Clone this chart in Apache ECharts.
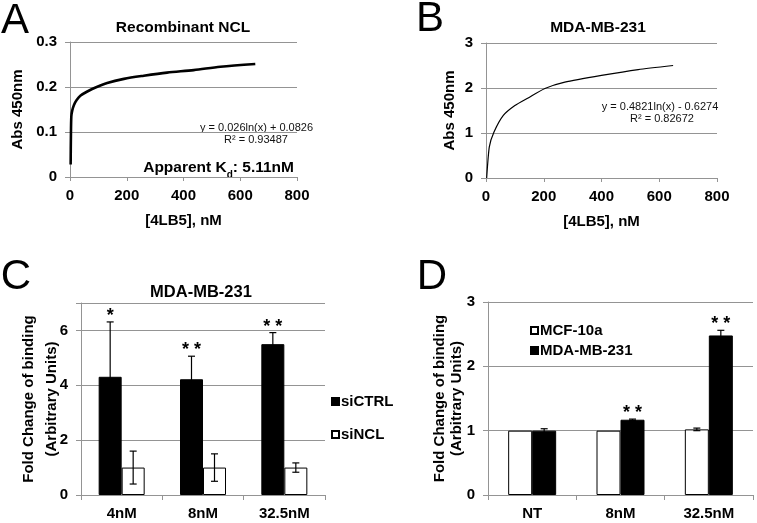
<!DOCTYPE html>
<html><head><meta charset="utf-8">
<script src="https://cdn.jsdelivr.net/npm/echarts@6/dist/echarts.min.js"></script>
<style>html,body{margin:0;padding:0;background:#fff}#c{width:757px;height:523px}</style>
</head><body><div id="c"></div>
<script>
// ---- data ----
const curveAx = [2.3, 3.2, 4.7, 8, 14, 23.5, 37.5, 61, 90, 131, 190, 260, 342, 436, 530, 653];
const curveAy = [0.028, 0.09, 0.135, 0.148, 0.16, 0.171, 0.181, 0.19, 0.199, 0.209, 0.218, 0.225, 0.232, 0.2375, 0.245, 0.251];
const curveBx = [2.3, 11.5, 27.7, 60, 100, 146, 204, 273, 400, 527, 648];
const curveBy = [0.0, 0.69, 1.02, 1.39, 1.61, 1.78, 1.99, 2.13, 2.28, 2.41, 2.50];
const catsC = ['4nM', '8nM', '32.5nM'];
const siCTRL = [4.31, 4.22, 5.50];
const siCTRLerr = [2.0, 0.84, 0.42];
const siNCL = [1.0, 1.0, 1.0];
const siNCLerr = [0.6, 0.5, 0.17];
const sigC = ['*', '* *', '* *'];
const catsD = ['NT', '8nM', '32.5nM'];
const mcf = [1.0, 1.0, 1.02];
const mcfErr = [0, 0, 0.02];
const mda = [1.0, 1.17, 2.48];
const mdaErr = [0.03, 0.01, 0.08];
const sigD = ['', '* *', '* *'];

// ---- styles ----
const F = '"Liberation Sans", Arial, sans-serif';
const GRAY = '#949494';
const lab = {color: '#000', fontWeight: 'bold', fontSize: 15, fontFamily: F};

function valAxisX(gi, name) {
  return {type: 'value', gridIndex: gi, min: 0, max: 800, interval: 200,
    axisLine: {show: true, lineStyle: {color: GRAY}}, axisTick: {show: true, length: 4, lineStyle: {color: GRAY}},
    axisLabel: Object.assign({margin: 11}, lab), splitLine: {show: false},
    name: name, nameLocation: 'middle', nameGap: 36, nameMoveOverlap: false, nameTextStyle: Object.assign({}, lab)};
}
function valAxisY(gi, max, interval, name, gap, lh, fmt) {
  return {type: 'value', gridIndex: gi, min: 0, max: max, interval: interval,
    axisLine: {show: true, lineStyle: {color: GRAY}}, axisTick: {show: true, length: 5, lineStyle: {color: GRAY}},
    axisLabel: Object.assign({margin: 13, formatter: fmt}, lab),
    splitLine: {show: true, lineStyle: {color: GRAY, width: 1}},
    name: name, nameLocation: 'middle', nameRotate: 90, nameGap: gap, nameMoveOverlap: false,
    nameTextStyle: Object.assign({lineHeight: lh}, lab)};
}
function catAxis(gi, cats) {
  return {type: 'category', gridIndex: gi, data: cats,
    axisLine: {show: true, lineStyle: {color: GRAY}}, axisTick: {show: true, length: 5, lineStyle: {color: GRAY}},
    axisLabel: Object.assign({margin: 11}, lab)};
}
function errSeries(xi, vals, errs, sig, offset) {
  return {type: 'custom', xAxisIndex: xi, yAxisIndex: xi, z: 10, silent: true,
    encode: {x: 0, y: 1},
    data: vals.map((v, i) => [i, v, errs[i]]),
    renderItem: function (params, api) {
      const i = api.value(0), v = api.value(1), e = api.value(2);
      const top = api.coord([i, v + e]);
      const bot = api.coord([i, v - e]);
      const x = top[0] + offset;
      const ch = [];
      const st = {stroke: '#000', lineWidth: 1.2};
      if (e > 0) {
        ch.push({type: 'line', shape: {x1: x, y1: top[1], x2: x, y2: bot[1]}, style: st});
        ch.push({type: 'line', shape: {x1: x - 3.5, y1: top[1], x2: x + 3.5, y2: top[1]}, style: st});
        ch.push({type: 'line', shape: {x1: x - 3.5, y1: bot[1], x2: x + 3.5, y2: bot[1]}, style: st});
      }
      const s = sig[params.dataIndex];
      if (s) ch.push({type: 'text', x: x, y: top[1] - 6,
        style: {text: s, font: 'bold 18px ' + F, fill: '#000', align: 'center', verticalAlign: 'middle'}});
      return {type: 'group', children: ch};
    }};
}
function txt(x, y, text, font, align, color) {
  return {type: 'text', x: x, y: y, silent: true,
    style: {text: text, font: font, fill: color || '#000', align: align || 'center', verticalAlign: 'middle'}};
}

const chart = echarts.init(document.getElementById('c'), null, {renderer: 'canvas'});
chart.setOption({
  backgroundColor: '#fff',
  animation: false,
  grid: [
    {left: 70, top: 42, width: 227, height: 135},
    {left: 486, top: 43, width: 231, height: 135},
    {left: 81, top: 303, width: 244, height: 192},
    {left: 488, top: 302, width: 265, height: 193}
  ],
  xAxis: [valAxisX(0, '[4LB5], nM'), valAxisX(1, '[4LB5], nM'), catAxis(2, catsC), catAxis(3, catsD)],
  yAxis: [
    valAxisY(0, 0.3, 0.1, 'Abs 450nm', 43, 18),
    valAxisY(1, 3, 1, 'Abs 450nm', 27, 18),
    valAxisY(2, 7, 2, 'Fold Change of binding\n(Arbitrary Units)', 18, 22.5, v => (v % 2 === 0 ? String(v) : '')),
    valAxisY(3, 3, 1, 'Fold Change of binding\n(Arbitrary Units)', 22, 17.5)
  ],
  legend: [
    {orient: 'vertical', left: 326, top: 389, itemGap: 18, itemWidth: 7, itemHeight: 7, icon: 'rect',
      data: ['siCTRL', 'siNCL'], textStyle: Object.assign({padding: [0, 0, 0, -3]}, lab)},
    {orient: 'vertical', left: 525, top: 318, itemGap: 5, itemWidth: 7, itemHeight: 7, icon: 'rect',
      data: ['MCF-10a', 'MDA-MB-231'], textStyle: Object.assign({padding: [0, 0, 0, -3]}, lab)}
  ],
  series: [
    {type: 'line', xAxisIndex: 0, yAxisIndex: 0, data: curveAx.map((x, i) => [x, curveAy[i]]),
      showSymbol: false, smooth: 0.3, lineStyle: {color: '#000', width: 2.6}},
    {type: 'line', xAxisIndex: 1, yAxisIndex: 1, data: curveBx.map((x, i) => [x, curveBy[i]]),
      showSymbol: false, smooth: 0.2, lineStyle: {color: '#000', width: 1.2}},
    {name: 'siCTRL', type: 'bar', xAxisIndex: 2, yAxisIndex: 2, data: siCTRL, barWidth: 23, barGap: '0%',
      itemStyle: {color: '#000', borderColor: '#000', borderWidth: 1}},
    {name: 'siNCL', type: 'bar', xAxisIndex: 2, yAxisIndex: 2, data: siNCL, barWidth: 23, barGap: '0%',
      itemStyle: {color: '#fff', borderColor: '#000', borderWidth: 1}},
    errSeries(2, siCTRL, siCTRLerr, sigC, -11.5),
    errSeries(2, siNCL, siNCLerr, ['', '', ''], 11.5),
    {name: 'MCF-10a', type: 'bar', xAxisIndex: 3, yAxisIndex: 3, data: mcf, barWidth: 24, barGap: '0%',
      itemStyle: {color: '#fff', borderColor: '#000', borderWidth: 1}},
    {name: 'MDA-MB-231', type: 'bar', xAxisIndex: 3, yAxisIndex: 3, data: mda, barWidth: 24, barGap: '0%',
      itemStyle: {color: '#000', borderColor: '#000', borderWidth: 1}},
    errSeries(3, mcf, mcfErr, ['', '', ''], -12),
    errSeries(3, mda, mdaErr, sigD, 12)
  ],
  graphic: [
    txt(15, 21, 'A', '42px ' + F),
    txt(430, 19, 'B', '42px ' + F),
    txt(16, 277, 'C', '42px ' + F),
    txt(432, 277, 'D', '42px ' + F),
    txt(183, 28, 'Recombinant NCL', 'bold 15.5px ' + F),
    txt(598, 28, 'MDA-MB-231', 'bold 15.5px ' + F),
    txt(201, 292, 'MDA-MB-231', 'bold 16.5px ' + F),
    txt(256.5, 128, 'y = 0.026ln(x) + 0.0826', '11px ' + F, 'center', '#111'),
    txt(256, 140, 'R² = 0.93487', '11px ' + F, 'center', '#111'),
    txt(660, 107, 'y = 0.4821ln(x) - 0.6274', '11px ' + F, 'center', '#111'),
    txt(662, 119, 'R² = 0.82672', '11px ' + F, 'center', '#111'),
    {type: 'text', x: 294, y: 168, silent: true,
      style: {text: '{a|Apparent K}{s|d}{a|: 5.11nM}', align: 'right', verticalAlign: 'middle',
        rich: {a: {font: 'bold 15.5px ' + F, fill: '#000', verticalAlign: 'bottom'},
               s: {font: 'bold 10px ' + F, fill: '#000', verticalAlign: 'bottom', padding: [0, 0, -4, 0]}}}}
  ]
});
</script></body></html>
